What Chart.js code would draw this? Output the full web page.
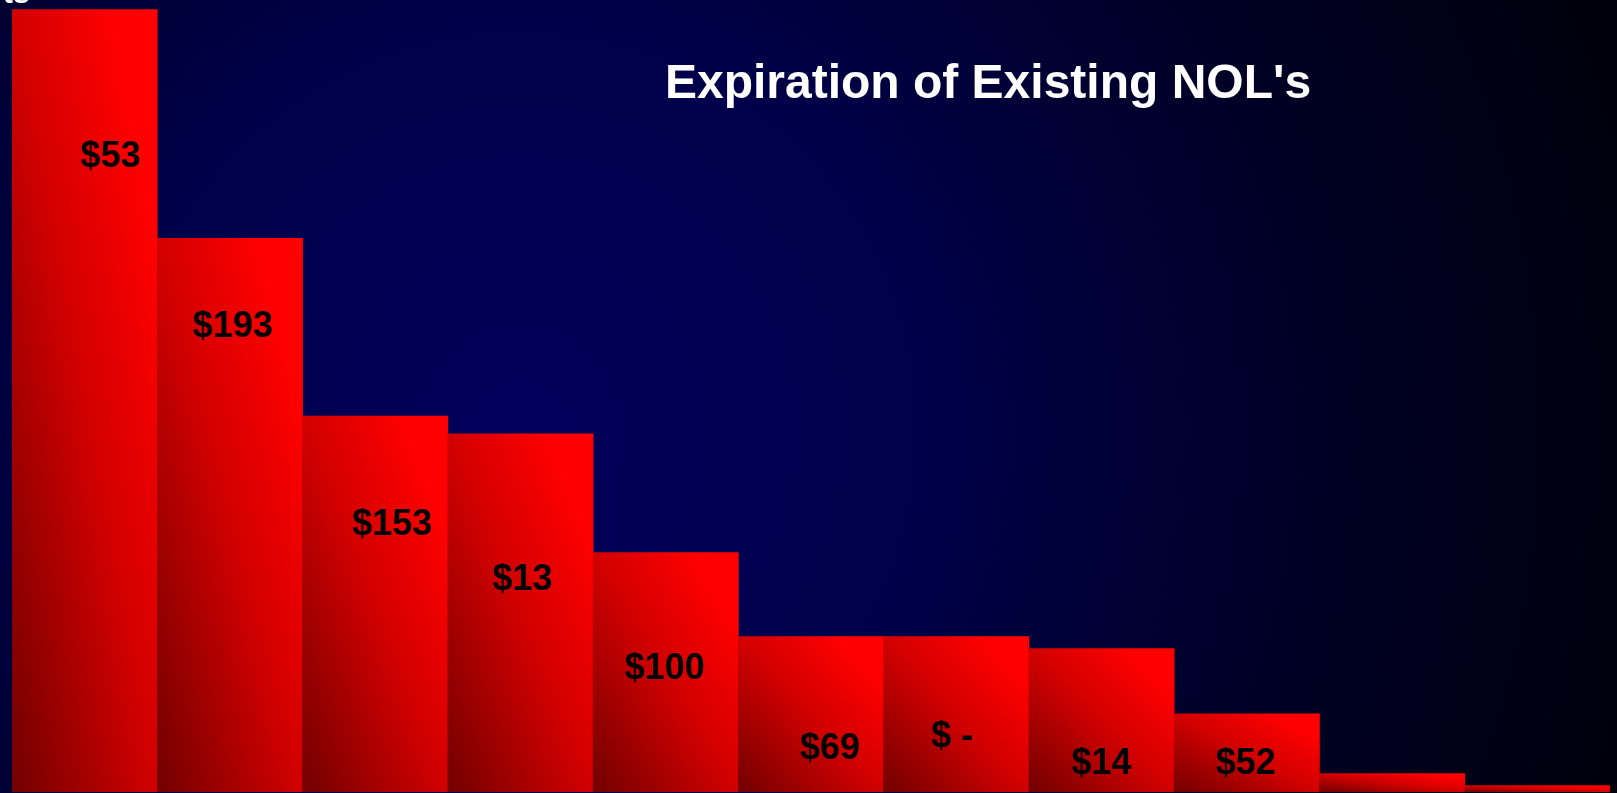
<!DOCTYPE html>
<html>
<head>
<meta charset="utf-8">
<title>Expiration of Existing NOL's</title>
<script src="https://cdn.jsdelivr.net/npm/chart.js@4/dist/chart.umd.min.js"></script>
<style>
  html, body { margin: 0; padding: 0; background: #000030; overflow: hidden; }
  canvas { display: block; }
</style>
</head>
<body>
<canvas id="nolChart" width="1617" height="793"></canvas>
<script>
// Remaining NOL balance per period ($M) and the amount that expires in each one.
const periods = ["1", "2", "3", "4", "5", "6", "7", "8", "9", "10", "11"];
const balances = [660, 467, 317, 302, 202, 131, 131, 121, 66, 15.5, 5.4];
const expiring = ["$53", "$193", "$153", "$13", "$100", "$69", "$ -", "$14", "$52"];
// level ($M) at which each expiring amount is written inside its bar
const labelLevels = [538, 395, 228, 181, 106, 39, 49, 26, 26];

const FONT = '"Liberation Sans", Arial, sans-serif';

// Diagonal red shading: dark at bottom-left corner, bright at top-right,
// colour bands running parallel to the top-left / bottom-right diagonal.
function barShade(ctx) {
  const chart = ctx.chart;
  if (ctx.type !== "data" || !chart.chartArea) return "#d00000";
  const xs = chart.scales.x, ys = chart.scales.y;
  const w = xs.width / periods.length;
  const cx = xs.getPixelForValue(ctx.dataIndex);
  const left = cx - w / 2;
  const top = ys.getPixelForValue(ctx.parsed.y);
  const bottom = ys.getPixelForValue(0);
  const h = bottom - top;
  const k = (2 * w * h) / (w * w + h * h);
  const g = chart.ctx.createLinearGradient(left, bottom, left + h * k, bottom - w * k);
  g.addColorStop(0, "#720000");
  g.addColorStop(0.5, "#d20000");
  g.addColorStop(0.85, "#ff0000");
  g.addColorStop(1, "#ff0000");
  return g;
}

const backdrop = {
  id: "backdrop",
  beforeDraw(chart) {
    const c = chart.ctx;
    const { width, height } = chart;
    const g = c.createRadialGradient(520, 430, 0, 520, 430, 1150);
    g.addColorStop(0, "#00005c");
    g.addColorStop(0.35, "#00004a");
    g.addColorStop(0.6, "#00002e");
    g.addColorStop(1, "#00000c");
    c.save();
    c.fillStyle = g;
    c.fillRect(0, 0, width, height);
    c.restore();
  }
};

const texts = {
  id: "texts",
  afterDatasetsDraw(chart) {
    const c = chart.ctx;
    const xs = chart.scales.x, ys = chart.scales.y;
    // small horizontal nudges of the amounts inside their bars
    const shift = [26, 3, 17, 2, -1, 19, -4, 0, -1];
    c.save();
    c.fillStyle = "#000000";
    c.font = "bold 36px " + FONT;
    c.textAlign = "center";
    c.textBaseline = "alphabetic";
    expiring.forEach((txt, i) => {
      const x = xs.getPixelForValue(i) + shift[i];
      const y = ys.getPixelForValue(labelLevels[i]) + 13;
      c.fillText(txt, x, y);
    });

    c.fillStyle = "#ffffff";
    c.font = "bold 48px " + FONT;
    c.fillText("Expiration of Existing NOL's", 988, 98);

    // tail of the units caption above the plot
    c.textAlign = "left";
    c.font = "bold 30px " + FONT;
    c.fillText("ts", 3, 3);
    c.restore();
  }
};

new Chart(document.getElementById("nolChart"), {
  type: "bar",
  data: {
    labels: periods,
    datasets: [
      {
        label: "Remaining NOL",
        data: balances,
        backgroundColor: barShade,
        borderWidth: 0,
        categoryPercentage: 1,
        barPercentage: 1,
      },
    ],
  },
  options: {
    responsive: false,
    animation: false,
    devicePixelRatio: 1,
    layout: { padding: { left: 12, right: 7, top: 0, bottom: 1 } },
    plugins: {
      legend: { display: false },
      tooltip: { enabled: false },
      title: { display: false },
    },
    scales: {
      x: { display: false },
      y: { display: false, min: 0, max: 668 },
    },
  },
  plugins: [backdrop, texts],
});
</script>
</body>
</html>
